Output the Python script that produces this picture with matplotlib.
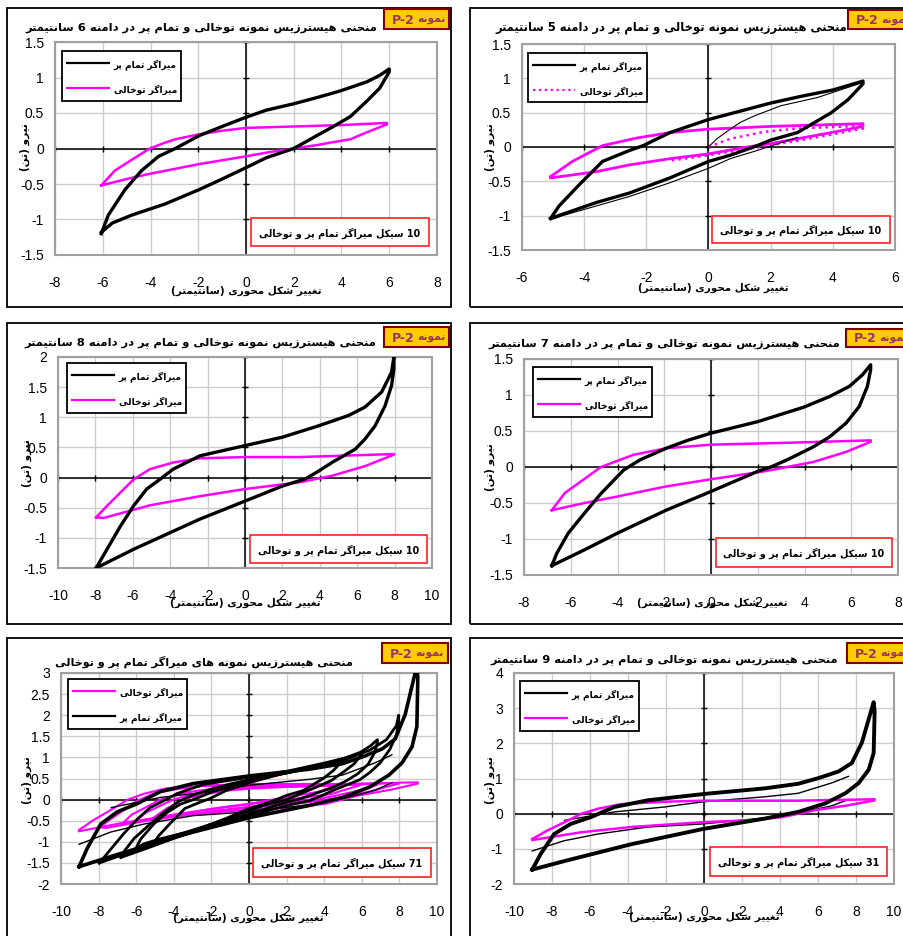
import matplotlib
matplotlib.use("Agg")
import matplotlib.pyplot as plt
from matplotlib.patches import Rectangle
from matplotlib.lines import Line2D

# ---- data (x = deformation cm, y = force ton) ----
# 5 cm amplitude
R5_FULL_X = [-5.08, -4.81, -4.16, -3.41, -2.54, -2.1, -1.24, 0, 1, 2, 3, 4, 4.97,
             4.97, 4.49, 3.95, 2.86, 2, 1.57, 0.7, 0, -1.24, -2.54, -3.62, -4.7, -5.08]
R5_FULL_Y = [-1.04, -0.86, -0.55, -0.21, -0.05, 0.02, 0.21, 0.40, 0.52, 0.64, 0.74, 0.83, 0.96,
             0.92, 0.69, 0.50, 0.21, 0.10, 0.02, -0.12, -0.21, -0.45, -0.67, -0.81, -0.98, -1.04]
R5_FIRST_X = [0, 0.27, 0.7, 1.03, 1.46, 2.32, 3.5, 4.97]
R5_FIRST_Y = [0, 0.12, 0.26, 0.36, 0.45, 0.60, 0.72, 0.94]
R5_THIN_X = [2.86, 1.57, 0.7, 0, -1.24, -2.54, -3.62, -4.7, -5.0]
R5_THIN_Y = [0.14, -0.05, -0.17, -0.31, -0.52, -0.72, -0.86, -1.00, -1.05]
R5_HOLLOW_X = [-5.08, -4.38, -3.41, -2.32, -1.24, 0, 2, 4.97,
               4.97, 3.95, 2.86, 2, 1.24, 0, -1.24, -2.54, -3.62, -5.08]
R5_HOLLOW_Y = [-0.43, -0.21, 0.02, 0.13, 0.21, 0.26, 0.30, 0.34,
               0.30, 0.21, 0.12, 0.05, 0.0, -0.10, -0.17, -0.26, -0.36, -0.45]
R5_DOT_X = [0, 0.7, 1.78, 2.86, 3.95, 4.97, 4.97, 3.95, 2.86, 1.78, 0.7, 0, -1.24]
R5_DOT_Y = [0, 0.12, 0.22, 0.27, 0.29, 0.31, 0.27, 0.18, 0.09, 0.01, -0.07, -0.12, -0.20]

# 6 cm amplitude
R6_FULL_X = [-6.06, -5.77, -5.07, -4.37, -3.66, -2.96, -1.97, -1.0, 0, 0.85, 2, 3, 3.94, 5.07, 5.6, 6.0,
             6.0, 5.6, 5.07, 4.37, 3.66, 2.96, 2, 0.85, 0, -1.0, -1.97, -3.38, -4.8, -5.6, -6.06]
R6_FULL_Y = [-1.20, -0.94, -0.58, -0.31, -0.11, 0.0, 0.18, 0.31, 0.44, 0.54, 0.63, 0.72, 0.81, 0.94, 1.03, 1.12,
             1.08, 0.85, 0.67, 0.45, 0.31, 0.18, 0.0, -0.13, -0.27, -0.43, -0.58, -0.78, -0.94, -1.05, -1.18]
R6_HOLLOW_X = [-6.06, -5.49, -4.79, -4.08, -3.5, -2.96, -1.97, -1.0, 0, 2, 4, 5.9,
               5.9, 5.0, 4.37, 3.66, 3.0, 2, 1.0, 0, -1.97, -4.08, -5.0, -6.06]
R6_HOLLOW_Y = [-0.52, -0.31, -0.16, -0.01, 0.07, 0.13, 0.20, 0.25, 0.29, 0.31, 0.33, 0.36,
               0.34, 0.22, 0.13, 0.09, 0.05, 0.0, -0.05, -0.11, -0.22, -0.36, -0.43, -0.52]

# 7 cm amplitude
R7_FULL_X = [-6.81, -6.6, -6.11, -5.41, -4.71, -3.73, -3.03, -1.92, -1.0, 0, 2, 3.96, 5.08, 5.92, 6.48, 6.83,
             6.83, 6.69, 6.34, 5.78, 5.08, 4.38, 3.26, 2.56, 2, 1, 0, -1.92, -4.01, -5.41, -6.81]
R7_FULL_Y = [-1.37, -1.20, -0.92, -0.64, -0.37, -0.04, 0.10, 0.26, 0.37, 0.47, 0.63, 0.83, 0.98, 1.12, 1.28, 1.42,
             1.35, 1.12, 0.84, 0.61, 0.42, 0.28, 0.10, 0.0, -0.06, -0.20, -0.34, -0.60, -0.92, -1.15, -1.37]
R7_HOLLOW_X = [-6.81, -6.25, -5.69, -4.71, -3.31, -1.92, 0, 3.68, 6.83,
               6.83, 5.78, 4.38, 2.28, 0, -1.92, -4.01, -5.41, -6.81]
R7_HOLLOW_Y = [-0.60, -0.36, -0.23, 0.0, 0.17, 0.26, 0.31, 0.34, 0.37,
               0.35, 0.21, 0.07, -0.06, -0.17, -0.27, -0.41, -0.50, -0.60]

# 8 cm amplitude
R8_FULL_X = [-7.96, -7.38, -6.67, -5.96, -5.26, -4.55, -3.84, -2.42, -1.0, 0, 2, 3.95, 5.54, 6.42, 7.31, 7.84, 7.96,
             7.96, 7.84, 7.49, 6.96, 6.42, 5.89, 4.65, 3.95, 3.24, 2, 0, -2.42, -4.19, -5.96, -7.96]
R8_FULL_Y = [-1.50, -1.19, -0.81, -0.47, -0.19, -0.03, 0.14, 0.36, 0.46, 0.53, 0.67, 0.86, 1.03, 1.17, 1.42, 1.75, 2.0,
             1.80, 1.53, 1.19, 0.86, 0.64, 0.47, 0.25, 0.11, -0.02, -0.14, -0.39, -0.69, -0.94, -1.19, -1.50]
R8_HOLLOW_X = [-7.96, -7.38, -6.67, -5.96, -5.08, -3.84, -2.42, 0, 2.88, 7.96,
               7.96, 6.42, 4.65, 2.88, 0, -2.42, -5.08, -7.56, -7.96]
R8_HOLLOW_Y = [-0.66, -0.47, -0.25, -0.03, 0.14, 0.25, 0.32, 0.34, 0.34, 0.39,
               0.38, 0.19, 0.03, -0.08, -0.19, -0.31, -0.46, -0.67, -0.66]

# 9 cm amplitude
R9_FULL_X = [-9.04, -8.6, -7.89, -7.01, -5.96, -4.72, -2.96, 0, 3.2, 4.96, 6.02, 7.08, 7.78, 8.31, 8.67, 8.93,
             8.98, 8.93, 8.67, 8.14, 7.44, 6.38, 4.96, 3.2, 0, -3.84, -7.36, -9.04]
R9_FULL_Y = [-1.59, -1.15, -0.58, -0.29, -0.10, 0.19, 0.38, 0.56, 0.72, 0.85, 1.01, 1.20, 1.44, 2.02, 2.69, 3.17,
             2.90, 1.73, 1.25, 0.87, 0.58, 0.29, 0.05, -0.14, -0.43, -0.87, -1.35, -1.59]
R9_THIN_X = [-9.04, -7.36, -5.6, -2.96, 0, 3.2, 4.96, 6.7, 7.6]
R9_THIN_Y = [-1.06, -0.77, -0.58, -0.38, -0.29, -0.12, 0.02, 0.22, 0.40]
R9_THIN2_X = [-7.33, -4.72, -2.08, 0, 3.2, 4.96, 6.7, 7.6]
R9_THIN2_Y = [-0.19, 0.05, 0.19, 0.34, 0.48, 0.58, 0.87, 1.06]
R9_HOLLOW_X = [-9.04, -8.25, -7.33, -6.45, -5.58, -4.37, -2.08, 0, 4.96, 8.98,
               8.98, 7.61, 5.85, 4.09, 2.33, 0, -3.84, -6.48, -9.04]
R9_HOLLOW_Y = [-0.72, -0.48, -0.24, 0.0, 0.14, 0.27, 0.34, 0.37, 0.37, 0.41,
               0.38, 0.24, 0.10, -0.10, -0.19, -0.24, -0.38, -0.53, -0.75]

# ---- texts (logical order) ----
TITLE_TPL = "منحنی هیسترزیس نمونه توخالی و تمام پر در دامنه {} سانتیمتر"
TITLE_ALL = "منحنی هیسترزیس نمونه های میراگر تمام پر و توخالی"
LEG_FULL = "میراگر تمام پر"
LEG_HOLLOW = "میراگر توخالی"
NOTE_TPL = "{} سیکل میراگر تمام پر و توخالی"
XLABEL = "تغییر شکل محوری (سانتیمتر)"
YLABEL = "نیرو (تن)"
TAG_WORD = "نمونه"
TAG_ID = "P-2"

BLACK = "black"
MAGENTA = "#FF00FF"

# ---- minimal Persian shaping (matplotlib has no text shaping) ----
FORMS = {
    "\u0627": ("\uFE8D", "\uFE8E", None, None),
    "\u062F": ("\uFEA9", "\uFEAA", None, None),
    "\u0631": ("\uFEAD", "\uFEAE", None, None),
    "\u0632": ("\uFEAF", "\uFEB0", None, None),
    "\u0648": ("\uFEED", "\uFEEE", None, None),
    "\u062A": ("\uFE95", "\uFE96", "\uFE97", "\uFE98"),
    "\u062D": ("\uFEA1", "\uFEA2", "\uFEA3", "\uFEA4"),
    "\u062E": ("\uFEA5", "\uFEA6", "\uFEA7", "\uFEA8"),
    "\u0633": ("\uFEB1", "\uFEB2", "\uFEB3", "\uFEB4"),
    "\u0634": ("\uFEB5", "\uFEB6", "\uFEB7", "\uFEB8"),
    "\u063A": ("\uFECD", "\uFECE", "\uFECF", "\uFED0"),
    "\u0644": ("\uFEDD", "\uFEDE", "\uFEDF", "\uFEE0"),
    "\u0645": ("\uFEE1", "\uFEE2", "\uFEE3", "\uFEE4"),
    "\u0646": ("\uFEE5", "\uFEE6", "\uFEE7", "\uFEE8"),
    "\u0647": ("\uFEE9", "\uFEEA", "\uFEEB", "\uFEEC"),
    "\u067E": ("\uFB56", "\uFB57", "\uFB58", "\uFB59"),
    "\u06A9": ("\uFB8E", "\uFB8F", "\uFB90", "\uFB91"),
    "\u06AF": ("\uFB92", "\uFB93", "\uFB94", "\uFB95"),
    "\u06CC": ("\uFBFC", "\uFBFD", "\uFBFE", "\uFBFF"),
}
MIRROR = {"(": ")", ")": "("}


def fa(s):
    s = s.replace("\u064A", "\u06CC").replace("\u0643", "\u06A9")
    shaped = []
    for i, c in enumerate(s):
        if c not in FORMS:
            shaped.append(c)
            continue
        prev = s[i - 1] if i > 0 else ""
        nxt = s[i + 1] if i + 1 < len(s) else ""
        jp = prev in FORMS and FORMS[prev][2] is not None
        jn = FORMS[c][2] is not None and nxt in FORMS
        iso, fin, ini, med = FORMS[c]
        shaped.append(med if (jp and jn) else fin if jp else ini if jn else iso)
    # split into ltr / rtl runs, then reverse for visual order
    runs = []
    for c in shaped:
        ltr = c.isascii() and (c.isalnum() or c in ".-")
        if runs and runs[-1][0] == ltr:
            runs[-1][1].append(c)
        else:
            runs.append([ltr, [c]])
    out = ""
    for ltr, chars in reversed(runs):
        if ltr:
            out += "".join(chars)
        else:
            out += "".join(MIRROR.get(c, c) for c in reversed(chars))
    return out


W, H = 904, 936
fig = plt.figure(figsize=(W / 100, H / 100), dpi=100)
renderer = fig.canvas.get_renderer()
FA = ["DejaVu Sans"]
NUM = ["Liberation Sans", "DejaVu Sans"]
GROW = 1.1  # DejaVu arabic is wide; let text run a bit longer to keep its height


def fx(x):
    return x / W


def fy(y):
    return 1 - y / H


def box(x0, y0, x1, y1, **kw):
    fig.patches.append(Rectangle((fx(x0), fy(y1)), (x1 - x0) / W, (y1 - y0) / H,
                                 transform=fig.transFigure, **kw))


def text(x, y, s, width=None, **kw):
    # width: size in pixels the text should span
    t = fig.text(fx(x), fy(y), s, **kw)
    if width:
        bb = t.get_window_extent(renderer)
        span = bb.height if kw.get("rotation") == 90 else bb.width
        t.set_fontsize(t.get_fontsize() * width / span)
    return t


def panel(frame, axpos, xlim, xticks, ylim, yticks, title, title_span, title_y, tag, legend,
          legend_items, note, note_text, xlabel_xy, ylabel_xy, loops):
    box(*frame, fill=False, ec="black", lw=1.3, zorder=0)
    x0, y0, x1, y1 = axpos
    ax = fig.add_axes([fx(x0), fy(y1), (x1 - x0) / W, (y1 - y0) / H])
    ax.set_xlim(*xlim)
    ax.set_ylim(*ylim)
    ax.set_xticks(xticks)
    ax.set_yticks(yticks)
    ax.set_xticklabels([f"{v:g}" for v in xticks], family=NUM, fontsize=10)
    ax.set_yticklabels([f"{v:g}" for v in yticks], family=NUM, fontsize=10)
    ax.tick_params(length=0)
    ax.tick_params(axis="x", pad=15)
    ax.tick_params(axis="y", pad=8)
    ax.grid(True, color="#cccccc", lw=1.0)
    ax.set_axisbelow(True)
    for sp in ax.spines.values():
        sp.set_color("#a0a0a0")
        sp.set_linewidth(1.5)
    ax.axhline(0, color="black", lw=1.1, zorder=1)
    ax.axvline(0, color="black", lw=1.1, zorder=1)
    ax.plot(xticks, [0] * len(xticks), ls="none", marker="|", ms=5, color="black", mew=1)
    ax.plot([0] * len(yticks), yticks, ls="none", marker="_", ms=5, color="black", mew=1)
    for xs, ys, color, lw, ls in loops:
        ax.plot(xs, ys, color=color, lw=lw, ls=ls, solid_joinstyle="round", zorder=3)

    # title: keep its right end where the reference has it
    ta, tb = title_span
    text(tb, title_y, fa(title), width=(tb - ta) * 1.05, family=FA, fontsize=10,
         fontweight="bold", ha="right", va="center")
    # tag
    box(*tag, fc="#FFCC00", ec="#800000", lw=1.5, zorder=5)
    cy = (tag[1] + tag[3]) / 2 + 1
    text(tag[0] + 8, cy, TAG_ID, width=23, family=FA, fontsize=10, fontweight="bold",
         color="#993366", ha="left", va="center", zorder=6)
    text(tag[0] + 62, cy, fa(TAG_WORD), width=28, family=FA, fontsize=8, fontweight="bold",
         color="#993366", ha="right", va="center", zorder=6)
    # legend
    lx0, ly0, lx1, ly1 = legend
    box(lx0, ly0, lx1, ly1, fc="white", ec="black", lw=1.3, zorder=5)
    for k, (label, color, ls) in enumerate(legend_items):
        yy = ly0 + 12 + 25 * k
        fig.lines.append(Line2D([fx(lx0 + 5), fx(lx0 + 47)], [fy(yy), fy(yy)], color=color,
                                lw=1.6, ls=ls, transform=fig.transFigure, zorder=6))
        text(lx1 - 4, yy + 2, fa(label), width=63, family=FA, fontsize=8,
             fontweight="bold", ha="right", va="center", zorder=6)
    # note
    box(*note, fc="white", ec="#FF2020", lw=1.2, zorder=5)
    text((note[0] + note[2]) / 2, (note[1] + note[3]) / 2 + 1, fa(note_text), width=147 * GROW,
         family=FA, fontsize=8.5, fontweight="bold", ha="center", va="center", zorder=6)
    text(*xlabel_xy, fa(XLABEL), width=138 * GROW, family=FA, fontsize=9.5, fontweight="bold",
         ha="center", va="center")
    text(*ylabel_xy, fa(YLABEL), width=44 * GROW, family=FA, fontsize=9.5, fontweight="bold",
         ha="center", va="center", rotation=90)


LEG_BK = [(LEG_FULL, BLACK, "-"), (LEG_HOLLOW, MAGENTA, "-")]

panel((7, 8, 451, 307), (55, 42, 437, 255), (-8, 8), list(range(-8, 9, 2)),
      (-1.5, 1.5), [-1.5, -1, -0.5, 0, 0.5, 1, 1.5],
      TITLE_TPL.format(6), (42, 377), 28, (384, 9, 449, 29), (62, 51, 181, 101), LEG_BK,
      (251, 218, 429, 246), NOTE_TPL.format(10), (246, 291), (25, 147),
      [(R6_HOLLOW_X, R6_HOLLOW_Y, MAGENTA, 1.8, "-"),
       (R6_FULL_X, R6_FULL_Y, BLACK, 2.4, "-")])

panel((470, 8, 910, 307), (522, 44, 895, 250), (-6, 6), list(range(-6, 7, 2)),
      (-1.5, 1.5), [-1.5, -1, -0.5, 0, 0.5, 1, 1.5],
      TITLE_TPL.format(5), (510, 847), 28, (848, 10, 915, 29), (528, 53, 647, 102),
      [(LEG_FULL, BLACK, "-"), (LEG_HOLLOW, MAGENTA, ":")],
      (712, 216, 890, 243), NOTE_TPL.format(10), (713, 288), (490, 147),
      [(R5_HOLLOW_X, R5_HOLLOW_Y, MAGENTA, 2.0, "-"),
       (R5_DOT_X, R5_DOT_Y, MAGENTA, 1.8, ":"),
       (R5_FIRST_X, R5_FIRST_Y, BLACK, 0.8, "-"),
       (R5_THIN_X, R5_THIN_Y, BLACK, 0.8, "-"),
       (R5_FULL_X, R5_FULL_Y, BLACK, 2.4, "-")])

panel((7, 323, 451, 624), (58, 357, 432, 568), (-10, 10), list(range(-10, 11, 2)),
      (-1.5, 2), [-1.5, -1, -0.5, 0, 0.5, 1, 1.5, 2],
      TITLE_TPL.format(8), (40, 376), 343, (384, 327, 449, 347), (67, 363, 186, 413), LEG_BK,
      (250, 535, 427, 563), NOTE_TPL.format(10), (245, 603), (27, 463),
      [(R8_HOLLOW_X, R8_HOLLOW_Y, MAGENTA, 1.8, "-"),
       (R8_FULL_X, R8_FULL_Y, BLACK, 2.4, "-")])

panel((470, 323, 910, 624), (524, 359, 898, 575), (-8, 8), list(range(-8, 9, 2)),
      (-1.5, 1.5), [-1.5, -1, -0.5, 0, 0.5, 1, 1.5],
      TITLE_TPL.format(7), (505, 840), 344, (846, 329, 915, 347), (533, 367, 652, 417), LEG_BK,
      (716, 538, 892, 567), NOTE_TPL.format(10), (712, 603), (490, 467),
      [(R7_HOLLOW_X, R7_HOLLOW_Y, MAGENTA, 1.8, "-"),
       (R7_FULL_X, R7_FULL_Y, BLACK, 2.4, "-")])

panel((7, 638, 451, 945), (61, 673, 437, 884), (-10, 10), list(range(-10, 11, 2)),
      (-2, 3), [-2, -1.5, -1, -0.5, 0, 0.5, 1, 1.5, 2, 2.5, 3],
      TITLE_ALL, (67, 353), 662, (382, 643, 448, 663), (68, 679, 187, 729),
      [(LEG_HOLLOW, MAGENTA, "-"), (LEG_FULL, BLACK, "-")],
      (253, 848, 431, 877), NOTE_TPL.format(71), (248, 918), (27, 780),
      [(R5_HOLLOW_X, R5_HOLLOW_Y, MAGENTA, 1.5, "-"),
       (R6_HOLLOW_X, R6_HOLLOW_Y, MAGENTA, 1.5, "-"),
       (R7_HOLLOW_X, R7_HOLLOW_Y, MAGENTA, 1.5, "-"),
       (R8_HOLLOW_X, R8_HOLLOW_Y, MAGENTA, 1.5, "-"),
       (R9_HOLLOW_X, R9_HOLLOW_Y, MAGENTA, 1.5, "-"),
       (R5_FULL_X, R5_FULL_Y, BLACK, 2.0, "-"),
       (R6_FULL_X, R6_FULL_Y, BLACK, 2.0, "-"),
       (R7_FULL_X, R7_FULL_Y, BLACK, 2.0, "-"),
       (R8_FULL_X, R8_FULL_Y, BLACK, 2.0, "-"),
       (R9_THIN_X, R9_THIN_Y, BLACK, 1.0, "-"),
       (R9_THIN2_X, R9_THIN2_Y, BLACK, 1.0, "-"),
       (R9_FULL_X, R9_FULL_Y, BLACK, 2.6, "-")])

panel((470, 638, 910, 945), (514, 673, 894, 884), (-10, 10), list(range(-10, 11, 2)),
      (-2, 4), [-2, -1, 0, 1, 2, 3, 4],
      TITLE_TPL.format(9), (505, 838), 660, (847, 643, 915, 663), (520, 681, 639, 731), LEG_BK,
      (710, 847, 887, 876), NOTE_TPL.format(31), (704, 917), (490, 780),
      [(R9_THIN_X, R9_THIN_Y, BLACK, 1.0, "-"),
       (R9_THIN2_X, R9_THIN2_Y, BLACK, 1.0, "-"),
       (R9_HOLLOW_X, R9_HOLLOW_Y, MAGENTA, 1.8, "-"),
       (R9_FULL_X, R9_FULL_Y, BLACK, 2.8, "-")])

fig.savefig("out.png", dpi=100)
